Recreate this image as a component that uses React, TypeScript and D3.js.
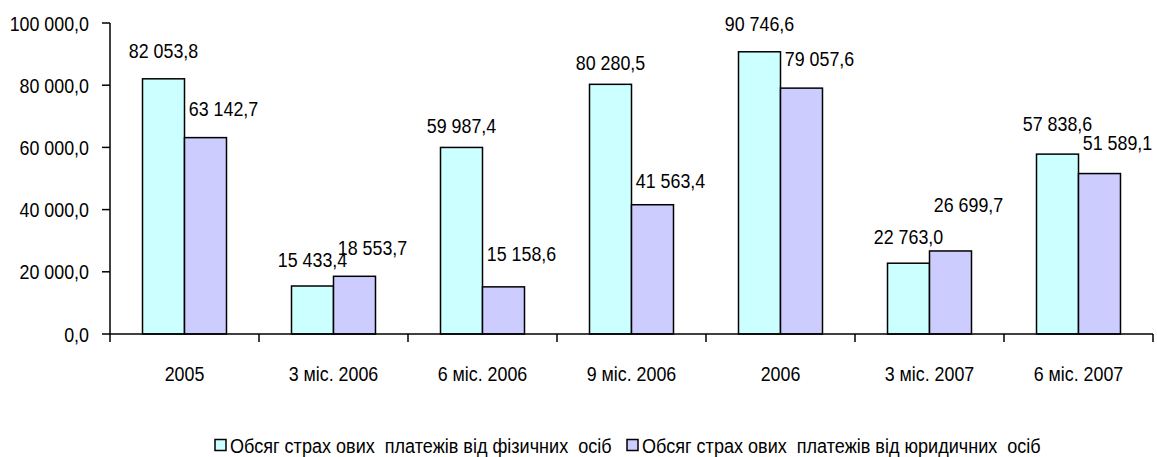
import * as d3 from "d3";

const categories = ["2005", "3 міс. 2006", "6 міс. 2006", "9 міс. 2006", "2006", "3 міс. 2007", "6 міс. 2007"];
const individuals = [82053.8, 15433.4, 59987.4, 80280.5, 90746.6, 22763.0, 57838.6];
const legalEntities = [63142.7, 18553.7, 15158.6, 41563.4, 79057.6, 26699.7, 51589.1];
const yTicks = [0, 20000, 40000, 60000, 80000, 100000];
const seriesNames = [
    "Обсяг страх ових  платежів від фізичних  осіб",
    "Обсяг страх ових  платежів від юридичних  осіб",
];

// how far each value label sits above its bar top (hand-placed in the original)
const liftIndividuals = [28, 27, 22, 22, 28, 27, 31];
const liftLegal = [29, 29, 33, 24, 30, 47, 31];

const colors = ["#CCFFFF", "#CCCCFF"];
const font = "'Liberation Sans', Arial, sans-serif";

const ua = d3.formatLocale({ decimal: ",", thousands: " ", grouping: [3], currency: ["", ""] });
const fmt = ua.format(",.1f");

function T({ x, y, anchor = "middle", sx = 0.85, children }: { x: number; y: number; anchor?: string; sx?: number; children: any }) {
    return (
        <text
            transform={`translate(${x},${y}) scale(${sx},1)`}
            textAnchor={anchor}
            dominantBaseline="central"
            fontSize="21"
            fontFamily={font}
            fill="#000"
            style={{ whiteSpace: "pre" }}
        >
            {children}
        </text>
    );
}

export default function App() {
    const width = 1157;
    const height = 457;
    const left = 110;
    const right = 1153;
    const yScale = d3.scaleLinear().domain([0, 100000]).range([334, 23]);
    const xScale = d3.scaleBand().domain(categories).range([left, right]);
    const inner = d3.scaleBand<number>().domain([0, 1]).range([0, xScale.bandwidth()]).paddingOuter(0.774);
    const bw = inner.bandwidth();
    const series = [individuals, legalEntities];
    const lifts = [liftIndividuals, liftLegal];
    const base = yScale(0);

    return (
        <svg width={width} height={height} style={{ position: "absolute", left: 0, top: 0 }}>
            <rect width={width} height={height} fill="#fff" />

            {series.map((vals, s) =>
                vals.map((v, i) => (
                    <rect
                        key={`${s}-${i}`}
                        x={(xScale(categories[i]) ?? 0) + (inner(s) ?? 0)}
                        y={yScale(v)}
                        width={bw}
                        height={base - yScale(v)}
                        fill={colors[s]}
                        stroke="#000"
                        strokeWidth="1.5"
                    />
                ))
            )}

            {/* y axis */}
            <line x1={left} x2={left} y1={yScale(100000)} y2={base} stroke="#000" strokeWidth="1.5" />
            {yTicks.map((t) => (
                <g key={t}>
                    <line x1={left - 8} x2={left} y1={yScale(t)} y2={yScale(t)} stroke="#000" strokeWidth="1.5" />
                    <T x={left - 21} y={yScale(t)} anchor="end">{fmt(t)}</T>
                </g>
            ))}

            {/* x axis */}
            <line x1={left} x2={right} y1={base} y2={base} stroke="#000" strokeWidth="1.5" />
            {[...categories.map((c) => xScale(c) ?? 0), right].map((tx, i) => (
                <line key={`tk-${i}`} x1={tx} x2={tx} y1={base} y2={base + 8} stroke="#000" strokeWidth="1.5" />
            ))}
            {categories.map((c) => (
                <T key={`lb-${c}`} x={(xScale(c) ?? 0) + xScale.bandwidth() / 2} y={373}>{c}</T>
            ))}

            {/* value labels */}
            {series.map((vals, s) =>
                vals.map((v, i) => {
                    const x0 = (xScale(categories[i]) ?? 0) + (inner(s) ?? 0);
                    const cx = s === 0 ? x0 + bw / 2 : x0 + bw - 3;
                    return (
                        <T key={`v-${s}-${i}`} x={cx} y={yScale(v) - lifts[s][i]}>{fmt(v)}</T>
                    );
                })
            )}

            {/* legend */}
            {seriesNames.map((name, s) => {
                const lx = s === 0 ? 215 : 627;
                return (
                    <g key={name}>
                        <rect x={lx} y={439.5} width={11} height={11} fill={colors[s]} stroke="#000" strokeWidth="1.5" />
                        <T x={lx + 15} y={445} anchor="start" sx={0.86}>{name}</T>
                    </g>
                );
            })}
        </svg>
    );
}
